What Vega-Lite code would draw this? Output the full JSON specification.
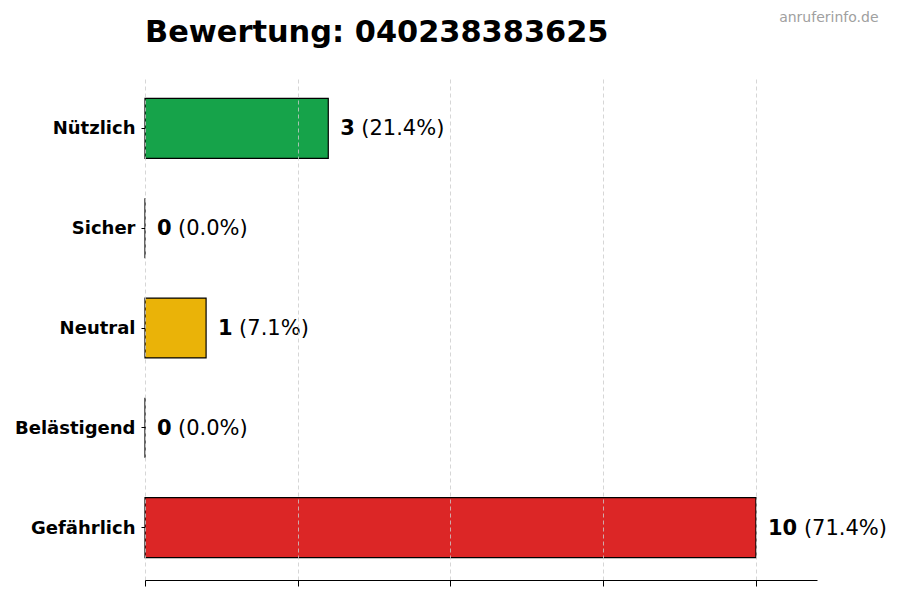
{
  "$schema": "https://vega.github.io/schema/vega-lite/v6.json",
  "width": 672,
  "height": 504,
  "autosize": {"type": "none"},
  "padding": {"left": 145, "top": 76, "right": 83, "bottom": 20},
  "background": "white",
  "title": {
    "text": "Bewertung: 040238383625",
    "anchor": "start",
    "frame": "group",
    "font": "DejaVu Sans",
    "fontSize": 30.4,
    "fontWeight": "bold",
    "color": "black",
    "offset": -38
  },
  "data": {
    "values": [
      {"kategorie": "Nützlich", "anzahl": 3, "prozent": "(21.4%)", "farbe": "#16a34a"},
      {"kategorie": "Sicher", "anzahl": 0, "prozent": "(0.0%)", "farbe": "#2563eb"},
      {"kategorie": "Neutral", "anzahl": 1, "prozent": "(7.1%)", "farbe": "#eab308"},
      {"kategorie": "Belästigend", "anzahl": 0, "prozent": "(0.0%)", "farbe": "#f97316"},
      {"kategorie": "Gefährlich", "anzahl": 10, "prozent": "(71.4%)", "farbe": "#dc2626"}
    ]
  },
  "encoding": {
    "y": {
      "field": "kategorie",
      "type": "nominal",
      "sort": null,
      "scale": {"paddingInner": 0.4, "paddingOuter": 0.225},
      "axis": {
        "title": "anruferinfo.de",
        "titleAngle": 0,
        "titleX": 733,
        "titleY": -59,
        "titleAlign": "right",
        "titleBaseline": "middle",
        "titleColor": "#a0a0a0",
        "titleFont": "DejaVu Sans",
        "titleFontSize": 14,
        "titleFontWeight": "normal",
        "domain": false,
        "grid": false,
        "ticks": true,
        "tickColor": "black",
        "tickSize": 4,
        "labelPadding": 6,
        "labelOffset": 1,
        "labelFont": "DejaVu Sans",
        "labelFontSize": 18,
        "labelFontWeight": "bold",
        "labelColor": "black"
      }
    }
  },
  "layer": [
    {
      "mark": {"type": "bar", "stroke": "black", "strokeWidth": 1.2},
      "encoding": {
        "x": {
          "field": "anzahl",
          "type": "quantitative",
          "scale": {"domain": [0, 11], "nice": false},
          "axis": {
            "title": null,
            "values": [0, 2.5, 5, 7.5, 10],
            "labels": false,
            "grid": true,
            "gridColor": "#cccccc",
            "gridDash": [4, 3],
            "gridWidth": 0.8,
            "domainColor": "black",
            "tickColor": "black",
            "tickSize": 6,
            "zindex": 1
          }
        },
        "color": {"field": "farbe", "type": "nominal", "scale": null}
      }
    },
    {
      "mark": {"type": "text", "align": "left", "baseline": "middle", "dx": 12, "dy": 1, "font": "DejaVu Sans", "fontSize": 21, "fontWeight": "bold", "color": "black"},
      "encoding": {
        "x": {"field": "anzahl", "type": "quantitative"},
        "text": {"field": "anzahl", "type": "nominal"}
      }
    },
    {
      "transform": [{"filter": "datum.anzahl < 10"}],
      "mark": {"type": "text", "align": "left", "baseline": "middle", "dx": 33, "dy": 1, "font": "DejaVu Sans", "fontSize": 21, "color": "black"},
      "encoding": {
        "x": {"field": "anzahl", "type": "quantitative"},
        "text": {"field": "prozent", "type": "nominal"}
      }
    },
    {
      "transform": [{"filter": "datum.anzahl >= 10"}],
      "mark": {"type": "text", "align": "left", "baseline": "middle", "dx": 48, "dy": 1, "font": "DejaVu Sans", "fontSize": 21, "color": "black"},
      "encoding": {
        "x": {"field": "anzahl", "type": "quantitative"},
        "text": {"field": "prozent", "type": "nominal"}
      }
    }
  ],
  "config": {"view": {"stroke": null}}
}
